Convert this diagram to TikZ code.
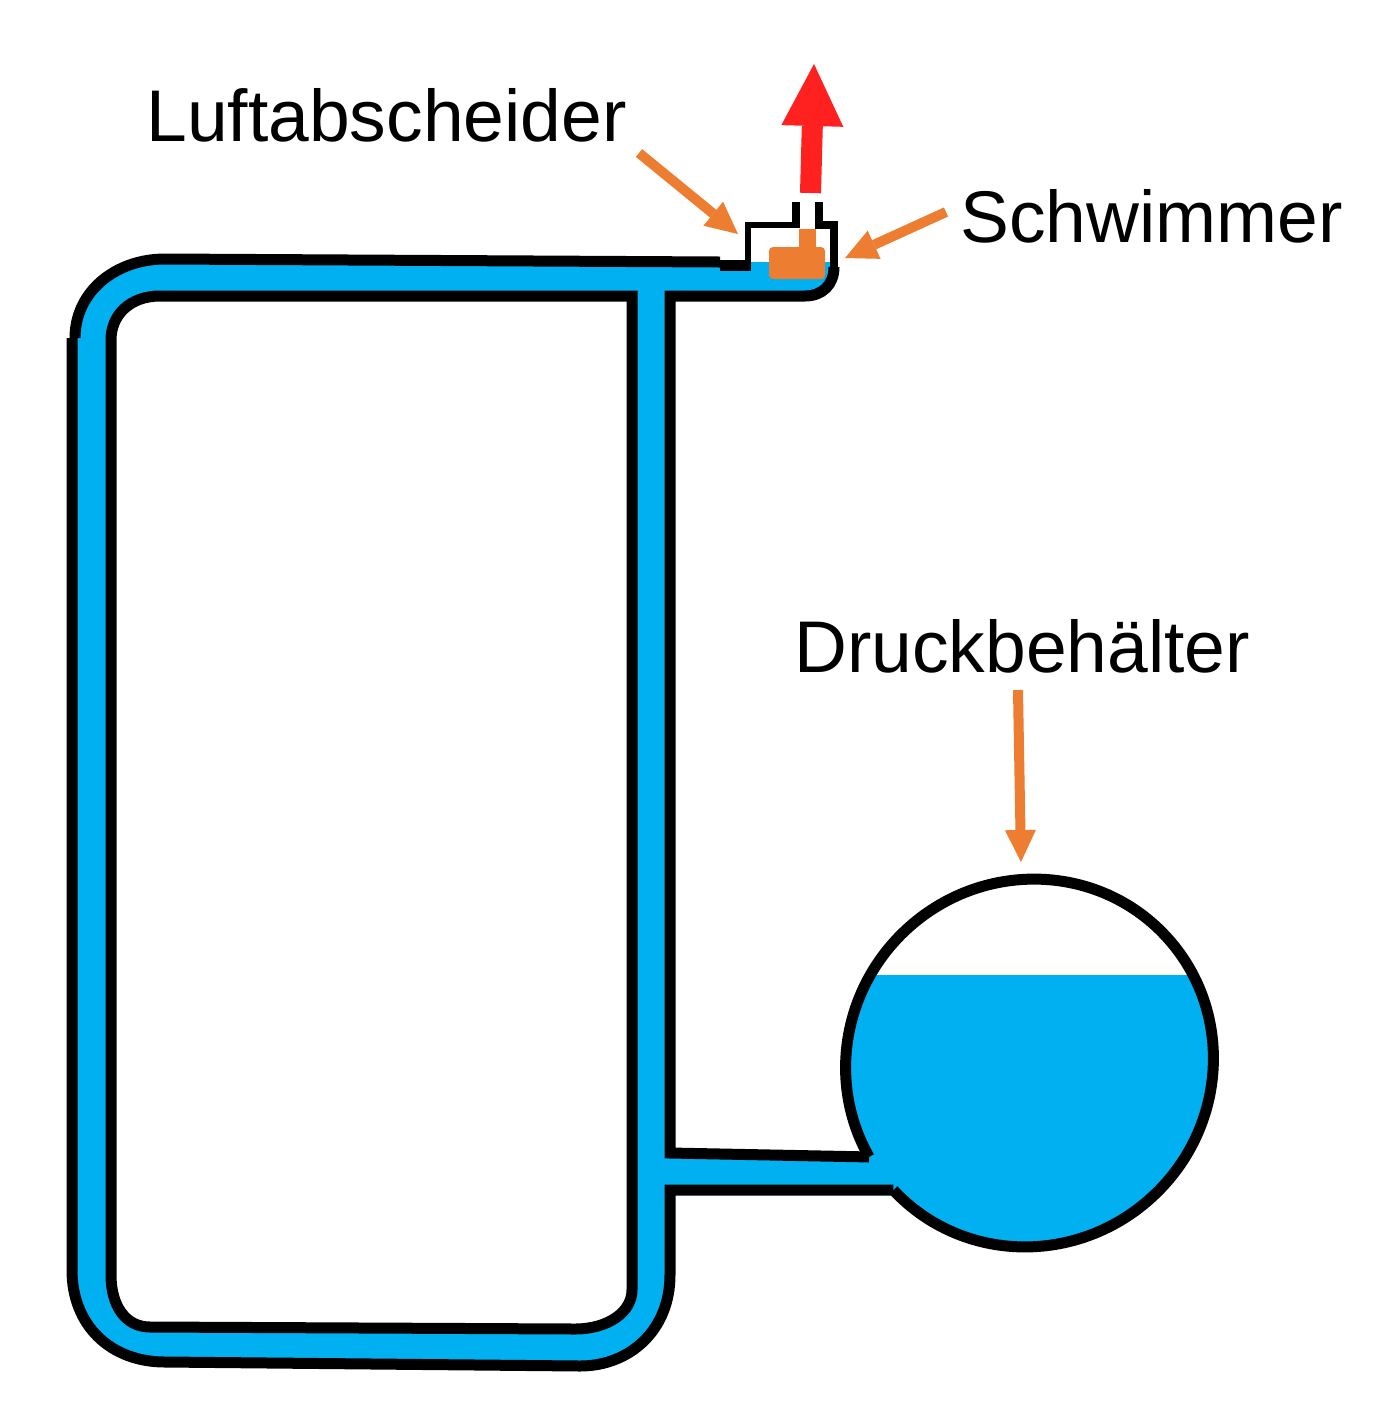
\documentclass[tikz,border=0pt]{standalone}
\usepackage{fontspec}
\setmainfont{Liberation Sans}
\usepackage{tikz}
\usetikzlibrary{arrows.meta, calc}

\definecolor{waterBlue}{HTML}{00B0F0}
\definecolor{floatOrange}{HTML}{ED7D31}
\definecolor{ventRed}{HTML}{FF2020}

\tikzset{
    wall/.style={draw=black, line width=5.5pt},
    thinwall/.style={draw=black, line width=3.2pt},
    water/.style={fill=waterBlue, draw=none},
    textlabel/.style={anchor=base west, inner sep=0pt, font=\fontsize{36.6}{40}\selectfont},
    pointer/.style={draw=floatOrange, line width=5pt, -{Triangle[length=16pt, width=15.5pt, line width=0pt]}}
}

\begin{document}
\begin{tikzpicture}[x=0.5pt, y=-0.5pt]
        \useasboundingbox (0,0) rectangle (1400,1404);

        % Define water in the pipes
        \path[water, even odd rule]
            (75,338) .. controls (75,292) and (115,259) .. (165,259) -- (748,265) -- (748,262) -- (834,262) -- (834,267)
            .. controls (834,285) and (822,296) .. (805,296) -- (670,296) -- (670,1153) -- (880,1156) -- (895,1190) -- (670,1190) -- (670,1275)
            .. controls (670,1330) and (630,1366) .. (580,1366) -- (165,1362)
            .. controls (110,1362) and (72,1325) .. (72,1270) -- (72,338) -- cycle
            (111,340) .. controls (111,315) and (130,296) .. (160,296) -- (632,296) -- (632,1290)
            .. controls (632,1312) and (608,1329) .. (575,1329) -- (150,1327)
            .. controls (125,1327) and (111,1305) .. (111,1275) -- cycle;

        % Define the tank
        \coordinate (tank) at (1029.5,1063);
        \begin{scope}[shift={(tank)}, rotate=45]
            \begin{scope}
                \clip (0,0) ellipse[x radius=93.1pt, y radius=90.8pt];
                \fill[waterBlue, rotate=-45] (-200,-88) rectangle (200,200);
            \end{scope}
            \coordinate (tankStart) at (178:93.1pt and 90.8pt);
            \coordinate (tankEnd) at (525:93.1pt and 90.8pt);
            \draw[wall] (tankStart) arc[start angle=178, end angle=525, x radius=93.1pt, y radius=90.8pt];
        \end{scope}

        % Draw the pipe walls
        \draw[wall] (111,340) .. controls (111,315) and (130,296) .. (160,296) -- (632,296) -- (632,1290)
            .. controls (632,1312) and (608,1329) .. (575,1329) -- (150,1327)
            .. controls (125,1327) and (111,1305) .. (111,1275) -- cycle;
        \draw[wall] (720,262) -- (165,259) .. controls (115,259) and (75,292) .. (75,338);
        \draw[wall] (72,338) -- (72,1270)
            .. controls (72,1325) and (110,1362) .. (165,1362) -- (580,1366)
            .. controls (630,1366) and (670,1330) .. (670,1275) -- (670,1190) -- (tankStart);
        \draw[wall] (834,267) .. controls (834,285) and (822,296) .. (805,296) -- (670,296) -- (670,1153) -- (tankEnd);
        \draw[wall] (720,265) -- (751,265);

        % Draw the air separator
        \draw[thinwall] (748,268) -- (748,225) -- (796,225);
        \draw[line width=4pt] (796,228) -- (796,202);
        \draw[line width=4pt] (819,202) -- (819,225) -- (834,225) -- (834,270);

        % Define the float
        \fill[floatOrange, rounded corners=2pt] (769,247) rectangle (825,279);
        \fill[floatOrange] (799,229) rectangle (816,250);

        % Define labels
        \node[textlabel] (separatorLabel) at (146,141) {Luftabscheider};
        \node[textlabel] (floatLabel) at (960,242) {Schwimmer};
        \node[textlabel] (tankLabel) at (794,672) {Druckbehälter};

        % Define arrow ends
        \coordinate (separatorTail) at (639,153);
        \coordinate (separatorTip) at (738,234);
        \coordinate (floatTail) at (946,212);
        \coordinate (floatTip) at (845,258);
        \coordinate (tankTail) at (1018,690);
        \coordinate (tankTip) at (1021,862);
        \coordinate (ventTail) at (810.5,193);
        \coordinate (ventTip) at (814,64);

        % Draw arrows
        \draw[pointer] (separatorTail) -- (separatorTip);
        \draw[pointer] (floatTail) -- (floatTip);
        \draw[pointer] (tankTail) -- (tankTip);
        \draw[draw=ventRed, line width=10.5pt, -{Triangle[length=31pt, width=31pt, line width=0pt]}] (ventTail) -- (ventTip);
\end{tikzpicture}
\end{document}
